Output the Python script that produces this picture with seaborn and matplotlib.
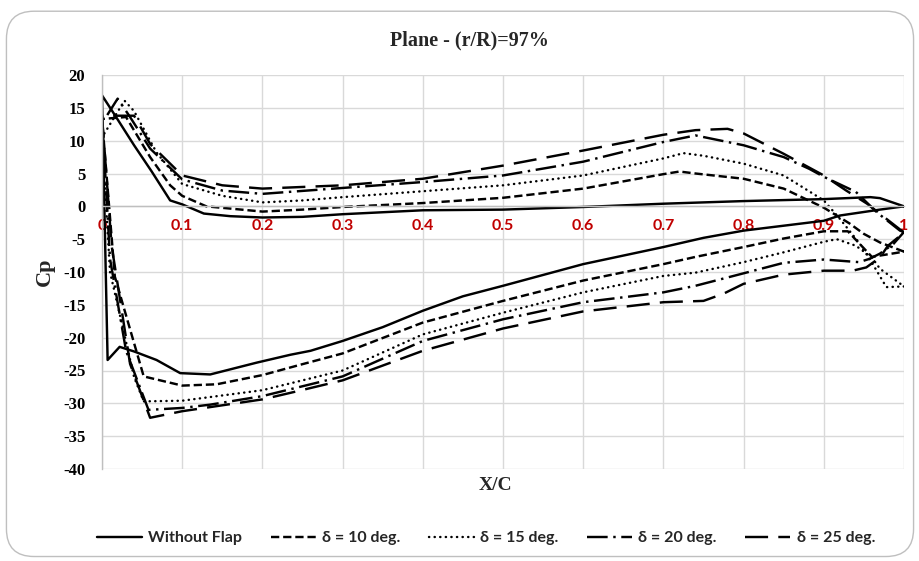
import numpy as np
import pandas as pd
import matplotlib
matplotlib.use("Agg")
import matplotlib.pyplot as plt
import seaborn as sns
from matplotlib.patches import FancyBboxPatch

# ---------------- data ----------------
series_names = ["Without Flap", "δ = 10 deg.", "δ = 15 deg.", "δ = 20 deg.", "δ = 25 deg."]

# Without Flap
wf_xu = [0, 0.016, 0.04, 0.062, 0.085, 0.1, 0.127, 0.16, 0.2, 0.25, 0.3, 0.4, 0.5, 0.6, 0.7, 0.8, 0.9, 0.958, 0.97, 1.0]
wf_cu = [16.9, 13.9, 9.3, 5.3, 0.9, 0.3, -1.1, -1.5, -1.7, -1.6, -1.2, -0.6, -0.5, -0.1, 0.4, 0.8, 1.1, 1.4, 1.25, 0.0]
wf_xl = [0, 0.007, 0.022, 0.04, 0.068, 0.0975, 0.135, 0.193, 0.235, 0.26, 0.3, 0.35, 0.4, 0.45, 0.5, 0.6, 0.7, 0.75, 0.8, 0.9, 0.92, 0.97, 1.0]
wf_cl = [16.9, -23.4, -21.4, -22.1, -23.4, -25.4, -25.6, -23.8, -22.6, -22.0, -20.5, -18.4, -15.9, -13.7, -12.1, -8.8, -6.2, -4.8, -3.7, -2.2, -1.4, -0.5, 0.0]

# delta = 10 deg
d10_xu = [0, 0.03, 0.06, 0.085, 0.1, 0.13, 0.2, 0.25, 0.3, 0.4, 0.5, 0.6, 0.7, 0.72, 0.74, 0.8, 0.85, 0.9, 0.932, 0.95, 0.97, 1.0]
d10_cu = [13.3, 13.6, 7.5, 3.2, 1.6, 0.0, -0.8, -0.5, -0.1, 0.5, 1.3, 2.7, 4.9, 5.3, 5.0, 4.2, 2.7, -0.2, -2.6, -4.2, -5.5, -6.9]
d10_xl = [0, 0.016, 0.052, 0.1, 0.143, 0.2, 0.248, 0.3, 0.4, 0.5, 0.6, 0.7, 0.74, 0.8, 0.85, 0.9, 0.93, 0.96, 1.0]
d10_cl = [13.3, -10.7, -25.9, -27.3, -27.1, -25.7, -24.1, -22.4, -17.7, -14.4, -11.3, -8.8, -7.7, -6.2, -4.9, -3.8, -3.8, -7.7, -6.9]

# delta = 15 deg
d15_xu = [0, 0.028, 0.04, 0.068, 0.1, 0.15, 0.2, 0.25, 0.3, 0.4, 0.5, 0.6, 0.7, 0.725, 0.75, 0.8, 0.85, 0.9, 0.92, 0.945, 0.962, 0.978, 1.0]
d15_cu = [10.5, 16.1, 14.5, 8.2, 3.4, 1.6, 0.6, 0.9, 1.4, 2.3, 3.2, 4.7, 7.3, 8.1, 7.7, 6.5, 4.7, 0.9, -1.9, -5.7, -9.0, -12.3, -12.2]
d15_xl = [0, 0.01, 0.04, 0.052, 0.1, 0.2, 0.3, 0.4, 0.5, 0.6, 0.7, 0.74, 0.8, 0.85, 0.9, 0.916, 0.94, 0.96, 0.97, 1.0]
d15_cl = [10.5, -10.0, -26.0, -29.7, -29.6, -28.0, -25.0, -19.5, -16.2, -13.1, -10.6, -10.1, -8.5, -7.0, -5.4, -5.0, -6.0, -7.8, -9.5, -12.2]

# delta = 20 deg
d20_xu = [0, 0.005, 0.0195, 0.035, 0.06, 0.1, 0.15, 0.2, 0.3, 0.4, 0.5, 0.6, 0.7, 0.74, 0.8, 0.85, 0.882, 0.9, 0.94, 0.966, 0.995, 1.0]
d20_cu = [13.8, 13.6, 16.4, 13.6, 8.8, 4.1, 2.4, 1.9, 2.8, 3.7, 4.7, 6.8, 9.8, 10.8, 9.3, 7.5, 5.7, 4.5, 2.2, -0.9, -3.7, -3.9]
d20_xl = [0, 0.01, 0.03, 0.058, 0.1, 0.135, 0.2, 0.3, 0.4, 0.5, 0.6, 0.7, 0.74, 0.8, 0.85, 0.9, 0.944, 0.957, 0.97, 0.987, 1.0]
d20_cl = [13.8, -8.0, -22.0, -31.0, -30.7, -30.2, -28.9, -25.9, -20.5, -17.2, -14.6, -13.1, -12.1, -10.2, -8.6, -8.1, -8.5, -8.0, -7.2, -5.7, -3.9]

# delta = 25 deg
d25_xu = [0, 0.04, 0.06, 0.1, 0.15, 0.2, 0.3, 0.4, 0.5, 0.6, 0.7, 0.74, 0.78, 0.8, 0.85, 0.9, 0.928, 0.954, 0.978, 1.0]
d25_cu = [13.8, 13.8, 9.5, 4.7, 3.2, 2.7, 3.2, 4.2, 6.2, 8.5, 10.9, 11.6, 11.8, 11.1, 8.0, 4.7, 2.4, 0.4, -1.9, -4.0]
d25_xl = [0, 0.012, 0.035, 0.06, 0.1, 0.2, 0.235, 0.3, 0.4, 0.5, 0.6, 0.7, 0.75, 0.775, 0.8, 0.85, 0.9, 0.936, 0.953, 0.97, 0.98, 1.0]
d25_cl = [13.8, -6.0, -24.0, -32.2, -31.2, -29.4, -28.4, -26.5, -22.0, -18.6, -16.0, -14.6, -14.4, -13.3, -11.8, -10.4, -9.8, -9.8, -9.3, -7.8, -6.0, -4.0]

x_ticks = [0, 0.1, 0.2, 0.3, 0.4, 0.5, 0.6, 0.7, 0.8, 0.9, 1]
x_tick_labels = ["0", "0.1", "0.2", "0.3", "0.4", "0.5", "0.6", "0.7", "0.8", "0.9", "1"]
y_ticks = [20, 15, 10, 5, 0, -5, -10, -15, -20, -25, -30, -35, -40]

upper = [(wf_xu, wf_cu), (d10_xu, d10_cu), (d15_xu, d15_cu), (d20_xu, d20_cu), (d25_xu, d25_cu)]
lower = [(wf_xl, wf_cl), (d10_xl, d10_cl), (d15_xl, d15_cl), (d20_xl, d20_cl), (d25_xl, d25_cl)]

rows = []
for name, (xu, cu), (xl, cl) in zip(series_names, upper, lower):
    xs = list(xu[::-1]) + list(xl[1:])
    cs = list(cu[::-1]) + list(cl[1:])
    for i, (a, b) in enumerate(zip(xs, cs)):
        rows.append({"series": name, "order": i, "x": a, "cp": b})
df = pd.DataFrame(rows)

# ---------------- styling ----------------
sns.set_theme(style="white")
plt.rcParams["font.family"] = ["Liberation Serif", "DejaVu Serif"]
plt.rcParams["axes.unicode_minus"] = False

dash_styles = {
    "Without Flap": None,
    "δ = 10 deg.": (3.4, 1.6),
    "δ = 15 deg.": (0.1, 2.2),
    "δ = 20 deg.": (8.5, 2.3, 1, 2.3),
    "δ = 25 deg.": (9.5, 4.2),
}

fig = plt.figure(figsize=(9.2, 5.61), dpi=100)
fig.patch.set_facecolor("white")
border = FancyBboxPatch((0.007, 0.008), 0.986, 0.972, boxstyle="round,pad=0,rounding_size=0.03",
                        transform=fig.transFigure, facecolor="none", edgecolor="#bfbfbf",
                        linewidth=1.0, mutation_aspect=920/561, zorder=-5)
fig.patches.append(border)

ax = fig.add_axes([102/920, 1 - 469/561, 802/920, 394/561])
ax.set_facecolor("white")

for name in series_names:
    sub = df[df["series"] == name]
    sns.lineplot(data=sub, x="x", y="cp", sort=False, estimator=None, ax=ax,
                 color="black", linewidth=1.75, label=name)
    line = ax.lines[-1]
    if dash_styles[name] is not None:
        line.set_dashes(dash_styles[name])
    if name == "δ = 15 deg.":
        line.set_dash_capstyle("round")

ax.set_xlim(0, 1)
ax.set_ylim(-40, 20)
ax.set_yticks(y_ticks)
ax.set_xticks(x_ticks)
ax.set_xticklabels(x_tick_labels)
ax.grid(True, color="#d9d9d9", linewidth=1.0)
ax.set_axisbelow(True)

for s in ["top", "right"]:
    ax.spines[s].set_visible(False)
ax.spines["left"].set_color("#bfbfbf")
ax.spines["bottom"].set_color("#bfbfbf")
ax.spines["bottom"].set_position(("data", 0))
ax.spines["left"].set_linewidth(1.0)
ax.spines["bottom"].set_linewidth(1.0)

ax.tick_params(axis="both", length=0)
ax.tick_params(axis="x", pad=9, labelcolor="#c00000")
ax.tick_params(axis="y", pad=12)
for t in ax.get_xticklabels():
    t.set_fontfamily(["Lato", "DejaVu Sans"])
    t.set_fontweight("bold")
    t.set_fontsize(11.5)
for t in ax.get_yticklabels():
    t.set_fontfamily(["Liberation Serif", "DejaVu Serif"])
    t.set_fontweight("bold")
    t.set_fontsize(12)
    t.set_color("black")

ax.set_xlabel("")
ax.set_ylabel("")
fig.text(495/920, 1 - 486/561, "X/C", ha="center", va="center", fontsize=14,
         fontweight="bold", family=["Liberation Serif", "DejaVu Serif"])
fig.text(45/920, 1 - 272/561, "Cp", ha="center", va="center", rotation=90, fontsize=16,
         fontweight="bold", family=["Liberation Serif", "DejaVu Serif"])
fig.text(469/920, 1 - 40/561, "Plane - (r/R)=97%", ha="center", va="center", fontsize=14.5,
         fontweight="bold", family=["Liberation Serif", "DejaVu Serif"])

handles, labels = ax.get_legend_handles_labels()
leg = fig.legend(handles, labels, loc="center", bbox_to_anchor=(486/920, 1 - 538/561), ncol=5,
                 frameon=False, handlelength=2.8, columnspacing=1.8, handletextpad=0.4,
                 prop={"family": ["Lato", "DejaVu Sans"], "weight": "bold", "size": 11.5})
if ax.get_legend() is not None:
    ax.get_legend().remove()

fig.savefig("out.png", dpi=100)
